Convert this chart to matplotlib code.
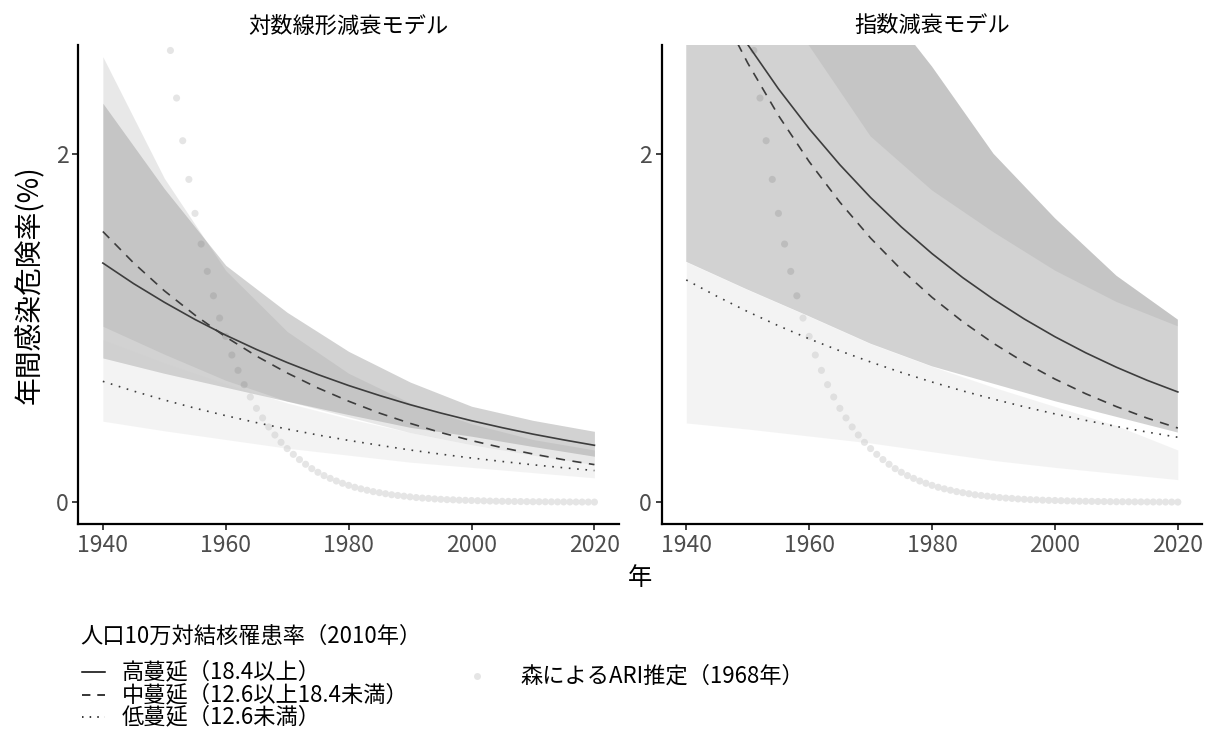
import matplotlib.pyplot as plt
from matplotlib.lines import Line2D

plt.rcParams['font.family'] = ['Noto Sans CJK JP', 'DejaVu Sans']

# years for the fitted curves (5-year steps) and for the intervals (10-year steps)
line_years = list(range(1940, 2021, 5))
years = [1940, 1950, 1960, 1970, 1980, 1990, 2000, 2010, 2020]

# log-linear decay model: central estimates
ll_high = [1.373, 1.255, 1.148, 1.049, 0.959, 0.877, 0.802, 0.733, 0.670,
           0.613, 0.560, 0.512, 0.468, 0.428, 0.391, 0.358, 0.327]
ll_mid = [1.554, 1.374, 1.214, 1.074, 0.949, 0.839, 0.742, 0.656, 0.580,
          0.512, 0.453, 0.400, 0.354, 0.313, 0.277, 0.244, 0.216]
ll_low = [0.694, 0.638, 0.587, 0.540, 0.497, 0.457, 0.420, 0.386, 0.355,
          0.327, 0.300, 0.276, 0.254, 0.234, 0.215, 0.198, 0.182]
# log-linear decay model: intervals
ll_high_lo = [0.828, 0.74, 0.66, 0.58, 0.503, 0.43, 0.379, 0.32, 0.264]
ll_high_hi = [2.29, 1.80, 1.36, 1.09, 0.866, 0.69, 0.551, 0.47, 0.407]
ll_mid_lo = [1.01, 0.85, 0.70, 0.58, 0.49, 0.40, 0.33, 0.27, 0.216]
ll_mid_hi = [2.557, 1.86, 1.33, 0.98, 0.74, 0.57, 0.45, 0.36, 0.30]
ll_low_lo = [0.465, 0.41, 0.36, 0.31, 0.27, 0.23, 0.20, 0.17, 0.14]
ll_low_hi = [0.933, 0.80, 0.68, 0.57, 0.48, 0.40, 0.33, 0.27, 0.216]

# exponential decay model: central estimates
ex_high = [3.22, 2.909, 2.627, 2.373, 2.144, 1.937, 1.749, 1.580, 1.427,
           1.289, 1.165, 1.052, 0.950, 0.858, 0.775, 0.700, 0.633]
ex_mid = [3.25, 2.862, 2.521, 2.220, 1.955, 1.722, 1.516, 1.335, 1.176,
          1.036, 0.912, 0.803, 0.707, 0.623, 0.549, 0.483, 0.426]
ex_low = [1.276, 1.182, 1.094, 1.013, 0.938, 0.869, 0.805, 0.745, 0.690,
          0.639, 0.592, 0.548, 0.507, 0.470, 0.435, 0.403, 0.373]
# exponential decay model: intervals
ex_high_lo = [1.38, 1.22, 1.067, 0.91, 0.78, 0.68, 0.58, 0.49, 0.40]
ex_high_hi = [6.0, 4.6, 3.6, 2.95, 2.50, 2.0, 1.63, 1.30, 1.048]
ex_mid_lo = [3.6, 3.0, 2.62, 2.10, 1.79, 1.55, 1.33, 1.15, 1.01]
ex_mid_hi = [6.0, 4.6, 3.6, 2.95, 2.50, 2.0, 1.63, 1.30, 1.048]
ex_low_lo = [0.455, 0.42, 0.38, 0.34, 0.29, 0.24, 0.20, 0.165, 0.13]
ex_low_hi = [1.38, 1.22, 1.067, 0.91, 0.78, 0.66, 0.55, 0.44, 0.30]

# Mori's ARI estimates (1968), one value per year 1951-2020
mori_years = list(range(1951, 2021))
mori_ari = [2.593, 2.32, 2.075, 1.853, 1.658, 1.482, 1.325, 1.185, 1.057, 0.952,
            0.845, 0.757, 0.675, 0.604, 0.539, 0.484, 0.432, 0.386, 0.344, 0.308,
            0.275, 0.245, 0.218, 0.193, 0.172, 0.153, 0.137, 0.122, 0.109, 0.097,
            0.086, 0.077, 0.069, 0.061, 0.055, 0.049, 0.043, 0.039, 0.035, 0.031,
            0.027, 0.024, 0.022, 0.019, 0.017, 0.015, 0.014, 0.012, 0.011, 0.010,
            0.009, 0.008, 0.007, 0.006, 0.0055, 0.005, 0.0044, 0.004, 0.0035, 0.003,
            0.003, 0.0027, 0.0024, 0.0021, 0.0019, 0.0017, 0.0015, 0.0013, 0.0012, 0.001]

panels = [
    ("対数線形減衰モデル", ll_high, ll_mid, ll_low,
     [(ll_high_lo, ll_high_hi), (ll_mid_lo, ll_mid_hi), (ll_low_lo, ll_low_hi)]),
    ("指数減衰モデル", ex_high, ex_mid, ex_low,
     [(ex_high_lo, ex_high_hi), (ex_mid_lo, ex_mid_hi), (ex_low_lo, ex_low_hi)]),
]

# grey fill per group (high, mid, low), all at the same alpha
fills = ["#333333", "#989898", "#cccccc"]
line_col = "#3d3d3d"
dash = (0, (5.5, 4.5))
dots = (0, (1, 4))

fig = plt.figure(figsize=(12.19, 7.36), dpi=100)
ax_l = fig.add_axes([0.0642, 0.288, 0.4436, 0.651])
ax_r = fig.add_axes([0.5428, 0.288, 0.4436, 0.651])

for ax, (title, hi, mid, lo, bands) in zip([ax_l, ax_r], panels):
    ax.scatter(mori_years, mori_ari, s=26, color="#e5e5e5", edgecolors="none", zorder=1)
    for (b_lo, b_hi), fc in zip(bands, fills):
        ax.fill_between(years, b_lo, b_hi, color=fc, alpha=0.22, linewidth=0, zorder=2)
    ax.plot(line_years, hi, color=line_col, lw=1.2, ls="-", zorder=3)
    ax.plot(line_years, mid, color=line_col, lw=1.2, ls=dash, zorder=3)
    ax.plot(line_years, lo, color=line_col, lw=1.2, ls=dots, zorder=3)

    ax.set_xlim(1936, 2024)
    ax.set_ylim(-0.125, 2.625)
    ax.set_xticks([1940, 1960, 1980, 2000, 2020])
    ax.set_yticks([0, 2])
    ax.set_title(title, fontsize=16, pad=9)
    for s in ["top", "right"]:
        ax.spines[s].set_visible(False)
    for s in ["left", "bottom"]:
        ax.spines[s].set_linewidth(1.6)
    ax.tick_params(labelsize=16.5, labelcolor="#4d4d4d", color="#333333",
                   length=4, width=1.3, pad=3)

ax_l.set_ylabel("年間感染危険率(%)", fontsize=20, labelpad=8)
fig.text(0.525, 0.214, "年", fontsize=17.5, ha="center", va="center")

# legend drawn below the panels
fs = 16
fig.text(0.066, 0.136, "人口10万対結核罹患率（2010年）", fontsize=fs, va="center")
keys = [("-", "高蔓延（18.4以上）"), (dash, "中蔓延（12.6以上18.4未満）"),
        (dots, "低蔓延（12.6未満）")]
for i, (ls, lab) in enumerate(keys):
    yy = 0.087 - i * 0.0307
    fig.add_artist(Line2D([0.0675, 0.086], [yy, yy], transform=fig.transFigure,
                          color="black", lw=1.1, ls=ls))
    fig.text(0.100, yy, lab, fontsize=fs, va="center")
fig.add_artist(Line2D([0.391], [0.0815], transform=fig.transFigure, marker="o",
                      markersize=5, color="#e5e5e5", markeredgewidth=0, ls="none"))
fig.text(0.427, 0.0815, "森によるARI推定（1968年）", fontsize=fs, va="center")

fig.savefig("out.png", dpi=100)
